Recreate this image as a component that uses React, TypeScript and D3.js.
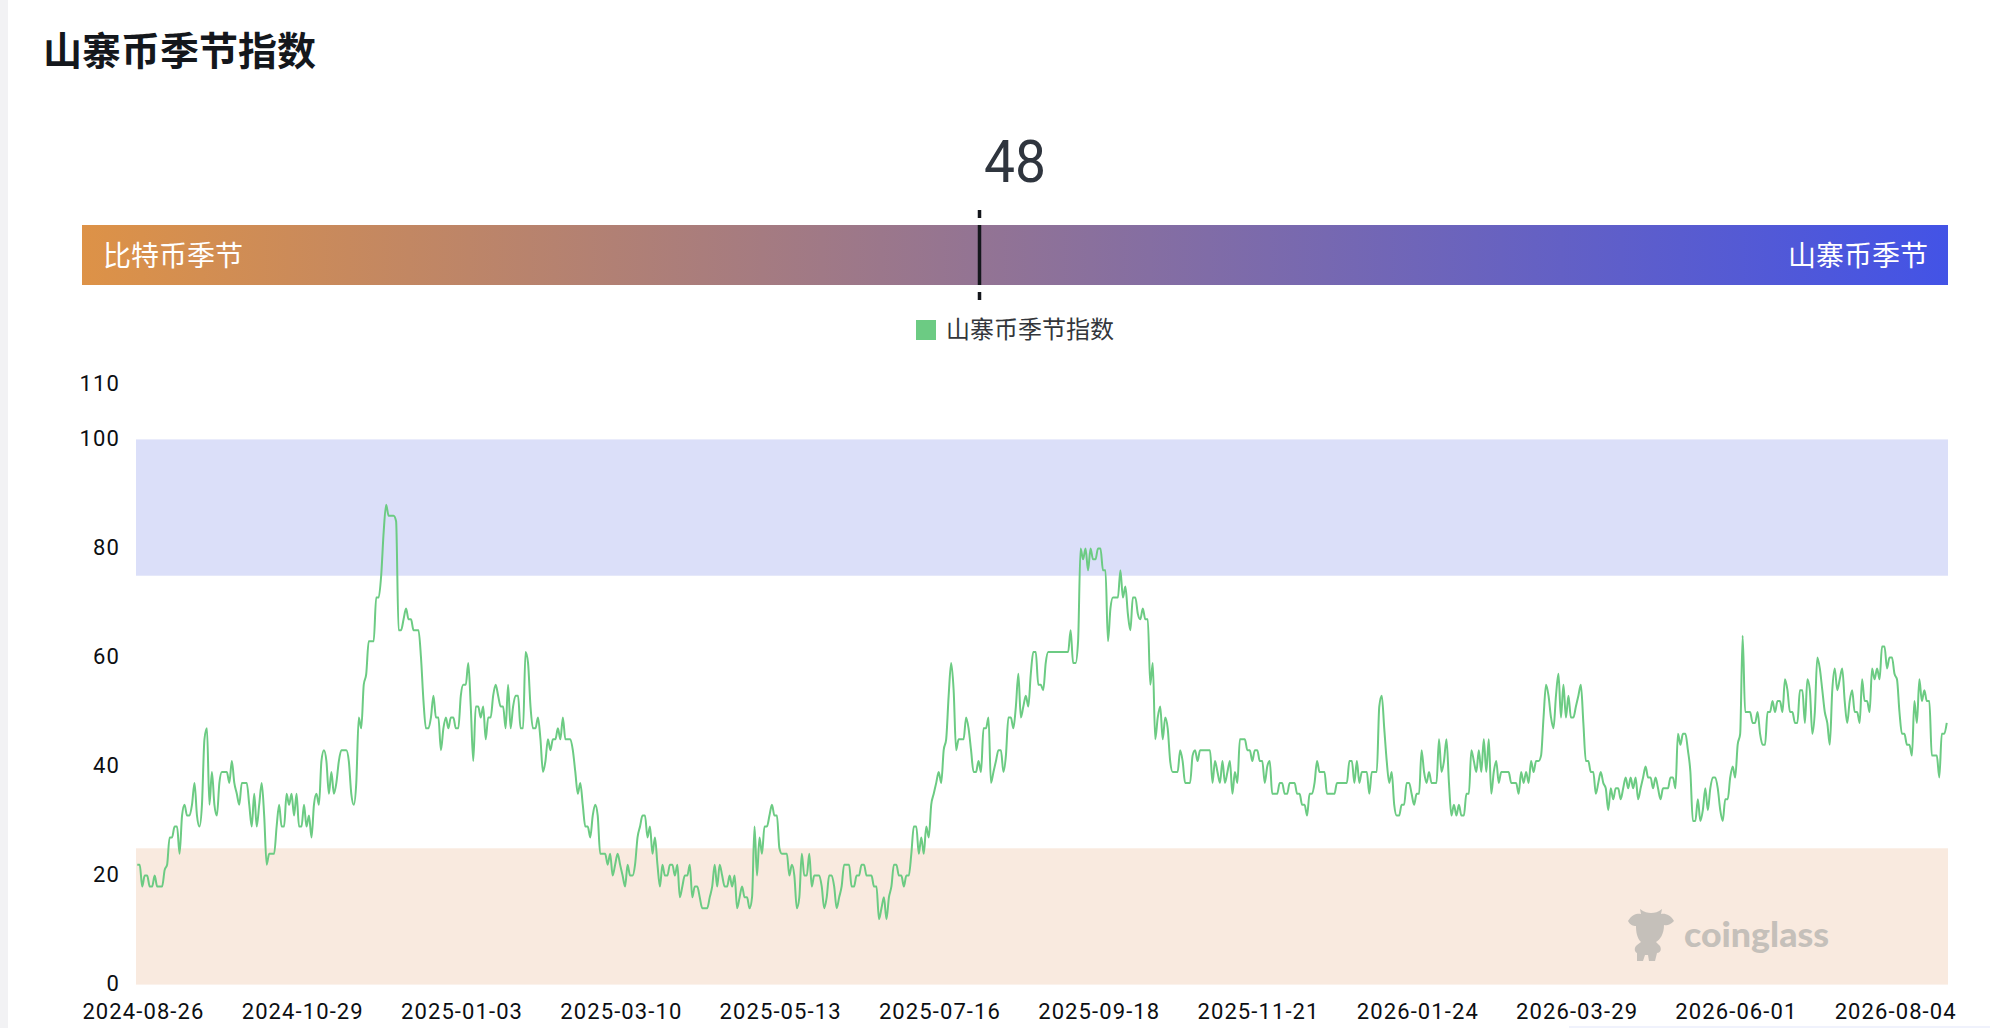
import React, { useEffect, useRef } from 'react';
import * as d3 from 'd3';

const title = '山寨币季节指数';
const gaugeValue = 48;
const gaugeLeftLabel = '比特币季节';
const gaugeRightLabel = '山寨币季节';

const xLabels = [
  '2024-08-26', '2024-10-29', '2025-01-03', '2025-03-10', '2025-05-13', '2025-07-16',
  '2025-09-18', '2025-11-21', '2026-01-24', '2026-03-29', '2026-06-01', '2026-08-04'
];
const yTicks = [0, 20, 40, 60, 80, 100, 110];
const bands = [
  { from: 75, to: 100, color: '#dbdff9' },
  { from: 0, to: 25, color: '#f9eadf' }
];

// one value per day, split by stretch of the chart
const part1 = [
  22, 22, 18, 20, 20, 18, 18, 20, 18, 18, 18, 21, 22, 27, 27, 29, 29, 24, 31, 33,
  31, 31, 33, 37, 31, 29, 33, 45, 47, 33, 39, 33, 31, 37, 39, 39, 39, 37, 41, 37,
  35, 33, 37, 37, 37, 33, 29, 35, 29, 33, 37, 31, 22, 24, 24, 24, 29, 33, 29, 29,
  35, 33, 35, 31, 35, 29, 29, 33, 29, 31, 27, 33, 35, 33, 41, 43, 41, 35, 39, 35,
  37, 41, 43, 43, 43, 41, 35, 33, 37, 49, 47
];
const part2 = [
  55, 57, 63, 63, 63, 71, 71, 75, 83, 88, 86, 86, 86, 85, 65, 65, 67, 69, 67, 67,
  65, 65, 65, 60, 52, 47, 47, 49, 53, 49, 49, 43, 47, 49, 47, 49, 49, 47, 47, 53,
  55, 55, 59, 51, 41, 51, 51, 49, 51, 45, 49, 49, 53, 55, 53, 51, 51, 47, 55, 47,
  51, 53, 53, 47, 47, 61, 59, 51, 47, 47, 49, 45, 39, 41, 45, 43, 45, 45, 47, 45,
  49, 45, 45, 45, 43, 39, 35, 37, 33, 29
];
const part3 = [
  29, 27, 31, 33, 31, 24, 24, 24, 22, 24, 20, 22, 24, 22, 20, 18, 22, 20, 20, 22,
  27, 29, 31, 31, 27, 29, 24, 27, 22, 18, 22, 20, 20, 22, 22, 20, 22, 16, 18, 20,
  20, 22, 16, 18, 18, 16, 14, 14, 14, 16, 18, 22, 18, 22, 20, 18, 18, 20, 18, 20,
  14, 16, 18, 16, 16, 14, 16, 29, 20, 27, 24, 29, 29, 31, 33, 31, 31, 25, 24, 24,
  24, 20, 22, 20, 14, 16, 24, 20, 20, 24, 18
];
const part4 = [
  20, 20, 20, 18, 14, 16, 20, 20, 18, 14, 16, 18, 22, 22, 22, 18, 18, 20, 20, 22,
  22, 20, 20, 20, 18, 18, 12, 14, 16, 12, 16, 18, 22, 22, 20, 20, 18, 20, 20, 24,
  29, 29, 24, 27, 24, 29, 27, 33, 35, 37, 39, 37, 43, 45, 53, 59, 54, 43, 45, 45,
  45, 49, 47, 43, 39, 39, 41, 39, 47, 47, 49, 37, 39, 41, 43, 43, 39, 42, 49, 49,
  47, 51, 57, 49, 51, 53, 51, 57, 61, 61, 55
];
const part5 = [
  55, 54, 59, 61, 61, 61, 61, 61, 61, 61, 61, 61, 65, 59, 59, 63, 80, 78, 80, 76,
  80, 78, 78, 80, 80, 76, 76, 63, 69, 71, 71, 71, 76, 71, 73, 68, 65, 71, 71, 68,
  67, 69, 67, 67, 55, 59, 45, 49, 51, 45, 49, 47, 41, 39, 39, 39, 43, 41, 37, 37,
  37, 42, 43, 41, 43, 43, 43, 43, 43, 37, 41, 39, 37, 41, 37, 39, 41, 35, 39, 37,
  45, 45, 45, 43, 43, 41, 43, 43, 41, 41, 37
];
const part6 = [
  40, 41, 35, 35, 35, 37, 37, 35, 35, 37, 37, 37, 35, 35, 33, 33, 31, 35, 35, 37,
  41, 39, 39, 39, 35, 35, 35, 35, 37, 37, 37, 37, 37, 41, 41, 37, 41, 37, 39, 39,
  39, 35, 39, 39, 39, 51, 53, 47, 41, 37, 39, 33, 31, 31, 33, 33, 37, 37, 35, 33,
  35, 35, 43, 39, 37, 39, 37, 37, 37, 45, 39, 41, 45, 37, 31, 33, 31, 33, 31, 31,
  35, 35, 43, 41, 39, 43, 39, 45, 39, 45, 35
];
const part7 = [
  39, 41, 37, 39, 39, 39, 39, 37, 37, 37, 35, 39, 37, 39, 37, 41, 39, 41, 41, 42,
  49, 55, 53, 49, 47, 53, 57, 49, 55, 49, 53, 49, 49, 51, 53, 55, 48, 41, 41, 39,
  39, 35, 37, 39, 37, 36, 32, 36, 34, 36, 36, 34, 36, 38, 36, 38, 36, 38, 34, 36,
  38, 40, 38, 38, 36, 38, 36, 34, 36, 36, 36, 38, 38, 36, 46, 44, 46, 46, 43, 39,
  30, 30, 34, 30, 32, 36, 32, 36, 38, 38
];
const part8 = [
  36, 32, 30, 34, 34, 38, 40, 38, 44, 46, 64, 50, 50, 50, 48, 48, 50, 46, 44, 44,
  50, 50, 52, 50, 52, 52, 50, 56, 54, 50, 50, 48, 48, 54, 54, 48, 56, 54, 46, 50,
  60, 58, 54, 50, 48, 44, 54, 58, 54, 56, 58, 52, 48, 52, 54, 50, 50, 48, 56, 52,
  52, 50, 58, 56, 58, 56, 62, 62, 58, 60, 60, 57, 56, 50, 46, 46, 44, 44, 42, 52,
  48, 56, 52, 54, 52, 52, 42, 42, 42, 38, 46, 46, 48
];
const seasonIndex = [...part1, ...part2, ...part3, ...part4, ...part5, ...part6, ...part7, ...part8];

const width = 1990;
const height = 1028;
const lineColor = '#6ccb83';
const labelFont = 'Roboto, "Noto Sans CJK SC", sans-serif';
const cjkFont = '"Noto Sans CJK SC", sans-serif';

const App: React.FC = () => {
  const xAxisRef = useRef<SVGGElement>(null);
  const yAxisRef = useRef<SVGGElement>(null);

  const days = d3.range(seasonIndex.length);
  const x = d3.scaleBand<number>().domain(days).range([136, 1948]);
  const y = d3.scaleLinear().domain([0, 110]).range([984.6, 384.9]);
  const gauge = d3.scaleLinear().domain([0, 100]).range([85.5, 1948]);

  const line = d3.line<number>()
    .x((_, i) => x(i)! + x.bandwidth() / 2)
    .y(d => y(d))
    .curve(d3.curveMonotoneX);

  useEffect(() => {
    if (!xAxisRef.current || !yAxisRef.current) return;

    // labels sit every 64 slots, nudged in from the left edge
    const xAxis = d3.axisBottom(x)
      .tickValues(xLabels.map((_, i) => 2 + i * 64))
      .tickFormat((_, i) => xLabels[i])
      .tickSize(0)
      .tickPadding(19);
    const yAxis = d3.axisLeft(y)
      .tickValues(yTicks)
      .tickSize(0)
      .tickPadding(16);

    const gx = d3.select(xAxisRef.current).call(xAxis);
    const gy = d3.select(yAxisRef.current).call(yAxis);
    [gx, gy].forEach(g => {
      g.select('.domain').remove();
      g.selectAll('text')
        .attr('fill', '#0c0e12')
        .style('font-family', labelFont)
        .style('font-size', '22px')
        .style('letter-spacing', '1.1px');
    });
    gx.selectAll('text').attr('dx', '1.2');
    gy.selectAll('text').attr('dy', '0.26em');
  }, []);

  const axisLeft = x.range()[0];
  const axisRight = x.range()[1];

  return (
    <svg
      width={width}
      height={height}
      style={{ position: 'absolute', left: 0, top: 0, background: '#fff' }}
    >
      <defs>
        <linearGradient id="gaugeFill" x1="0" x2="1" y1="0" y2="0">
          <stop offset="0" stopColor="#dd9247" />
          <stop offset="1" stopColor="#4353e6" />
        </linearGradient>
      </defs>

      <rect x={0} y={0} width={8} height={height} fill="#f2f2f4" />
      <rect x={1569} y={1026} width={421} height={2} fill="#f0f2fc" />

      <text x={43} y={48} dominantBaseline="central" fontFamily={cjkFont} fontWeight={700} fontSize={39} fill="#14171c">
        {title}
      </text>

      <text
        x={1015}
        y={182}
        textAnchor="middle"
        fontFamily={labelFont}
        fontSize={60}
        fill="#2f353e"
        textLength={62}
        lengthAdjust="spacingAndGlyphs"
      >
        {gaugeValue}
      </text>

      <rect x={82} y={225} width={1866} height={60} fill="url(#gaugeFill)" />
      <text x={103} y={254} dominantBaseline="central" fontFamily={cjkFont} fontSize={28} fill="#fff">
        {gaugeLeftLabel}
      </text>
      <text x={1928} y={254} dominantBaseline="central" textAnchor="end" fontFamily={cjkFont} fontSize={28} fill="#fff">
        {gaugeRightLabel}
      </text>
      <line
        x1={gauge(gaugeValue)}
        x2={gauge(gaugeValue)}
        y1={210}
        y2={300}
        stroke="#14171c"
        strokeWidth={3.5}
        strokeDasharray="8 7 60 7 8"
      />

      <rect x={916} y={320} width={20} height={20} fill={lineColor} />
      <text x={946} y={327} dominantBaseline="central" fontFamily={cjkFont} fontSize={24} fill="#33363b">
        {title}
      </text>

      {bands.map(b => (
        <rect
          key={b.from}
          x={axisLeft}
          y={y(b.to)}
          width={axisRight - axisLeft}
          height={y(b.from) - y(b.to)}
          fill={b.color}
        />
      ))}

      {/* watermark */}
      <g fill="#c5c0ba">
        <path d="M1628 921 C1632 914 1638 913 1641 914 L1640 909 C1644 912 1648 913 1651 913 C1655 913 1658 912 1662 909 L1661 914 C1665 913 1671 915 1674 921 C1670 925 1667 926 1664 925 C1664 934 1660 940 1656 942 L1660 946 C1662 950 1660 953 1657 953 L1655 961 L1649 961 L1648 955 L1645 955 L1643 961 L1637 961 L1637 953 C1634 952 1634 947 1637 945 L1641 942 C1637 938 1636 932 1636 926 C1633 926 1630 925 1628 921 Z" />
        <text x={1684} y={947} fontFamily="Lato, sans-serif" fontWeight={900} fontSize={34} textLength={145} lengthAdjust="spacingAndGlyphs">
          coinglass
        </text>
      </g>

      <path d={line(seasonIndex) ?? ''} fill="none" stroke={lineColor} strokeWidth={2} />

      <g ref={xAxisRef} transform={`translate(0, ${y(0)})`} />
      <g ref={yAxisRef} transform={`translate(${axisLeft}, 0)`} />
    </svg>
  );
};

export default App;
